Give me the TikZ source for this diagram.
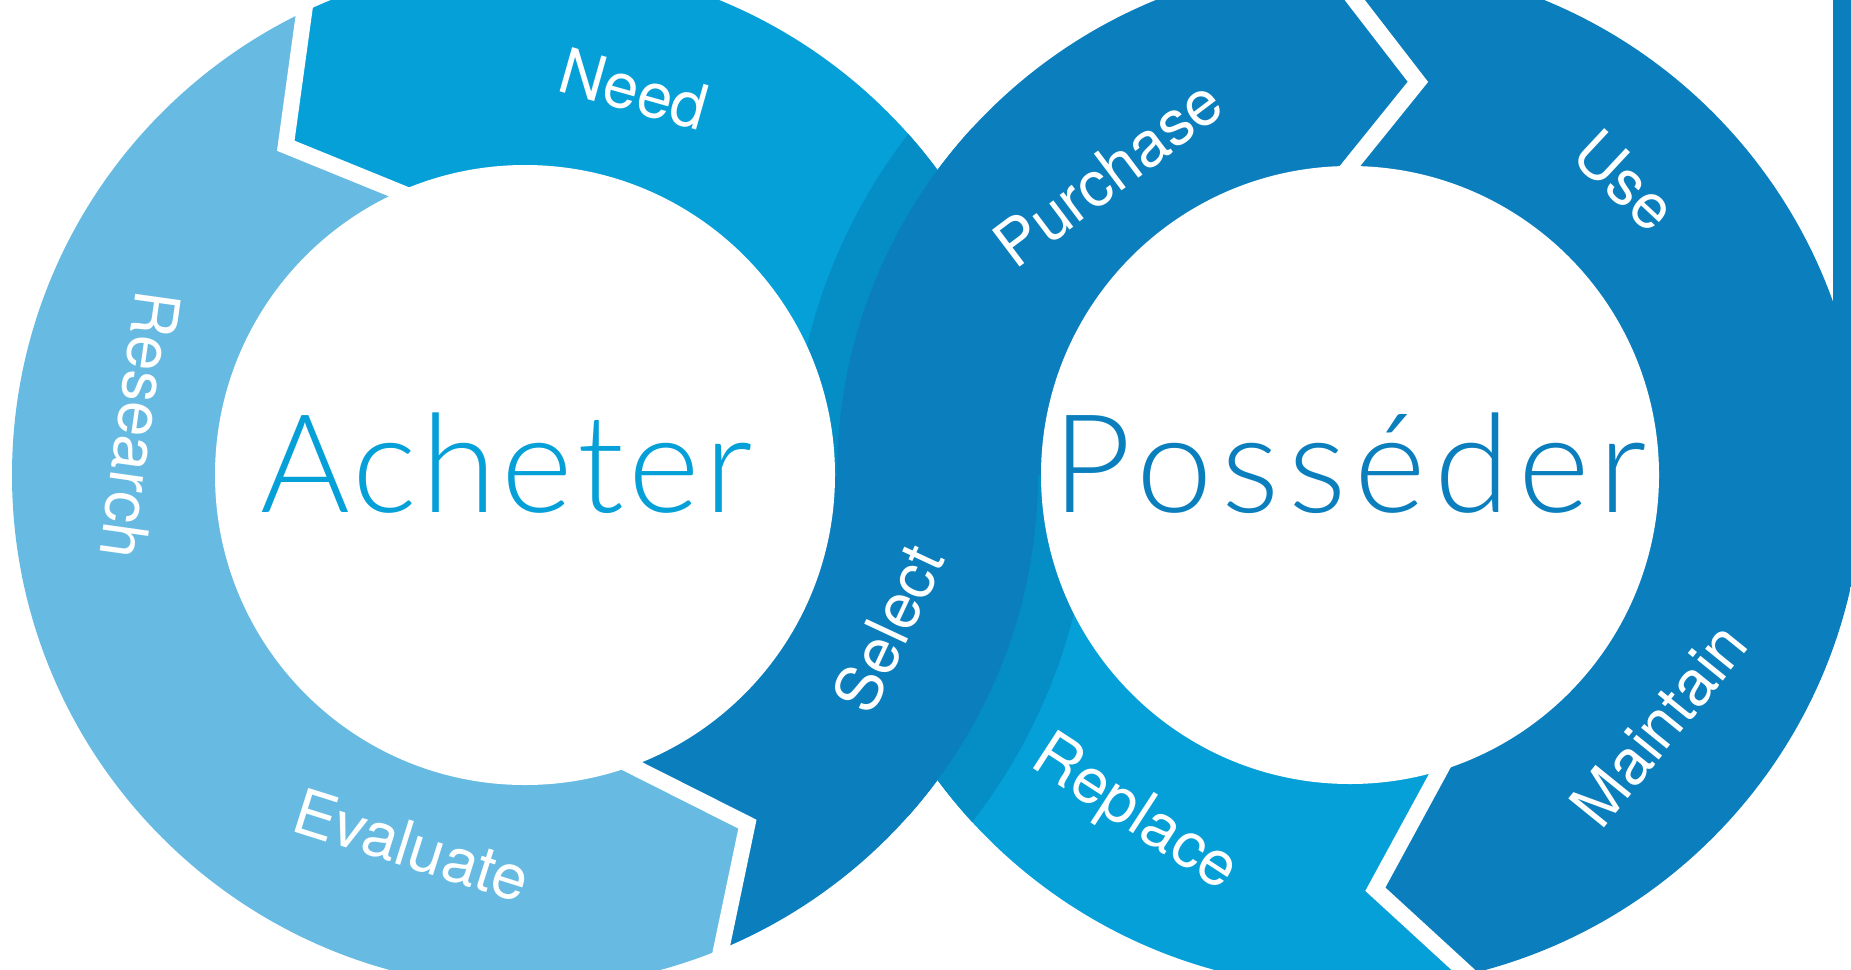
\documentclass[tikz,border=0pt]{standalone}
\usepackage{fontspec}
\setmainfont{TeX Gyre Heros}
\newfontfamily\achfont{Lato Light}[LetterSpace=3.2]
\newfontfamily\posfont{Lato Light}[LetterSpace=6.2]
\definecolor{lightseg}{HTML}{67BBE3}
\definecolor{midseg}{HTML}{06A0D9}
\definecolor{darkseg}{HTML}{0B7FBD}
\definecolor{shadeseg}{HTML}{058EC6}

\begin{document}
\begin{tikzpicture}[x=1pt,y=1pt,
  lbl/.style={text=white,font=\fontsize{63}{70}\selectfont,inner sep=0pt},
  title/.style={inner sep=0pt,anchor=base},
  gap/.style={draw=white,line width=16pt,line join=miter,shorten <=-25pt,shorten >=-25pt}]
\useasboundingbox (0,0) rectangle (1851,-969);
\coordinate (CL) at (525,-475);
\coordinate (CR) at (1350,-475);

\fill[darkseg] (1833,0) rectangle (1851,-475);

\begin{scope}[shift={(CL)}]
\clip (0,0) circle (513);
\fill[lightseg] (0,0) -- (114:310) -- (126:407) -- (115.5:513) -- (115.5:600)
  arc[start angle=115.5,end angle=292.5,radius=600] -- (-67.5:513) -- (-57.5:414) -- (-70:309) -- cycle;
\fill[midseg] (0,0) -- (0:600) arc[start angle=0,end angle=115.5,radius=600]
  -- (115.5:513) -- (126:407) -- (114:310) -- cycle;
\end{scope}

\begin{scope}[shift={(CR)}]
\clip (0,0) circle (513);
\fill[midseg] (0,0) -- (180:600) arc[start angle=180,end angle=283.3,radius=600]
  -- (283.3:513) -- (273.5:415) -- (286.9:309) -- cycle;
\end{scope}

\begin{scope}
\clip (CL) circle (513);
\fill[shadeseg] (CR) circle (558);
\end{scope}
\begin{scope}
\clip (CR) circle (513);
\fill[shadeseg] (CL) circle (566);
\end{scope}

\begin{scope}[shift={(CL)}]
\clip (0,0) circle (513);
\fill[darkseg] (0,0) -- (-70:309) -- (-57.5:414) -- (-67.5:513) -- (-67.5:600)
  arc[start angle=-67.5,end angle=0,radius=600] -- cycle;
\end{scope}

\begin{scope}[shift={(CR)}]
\clip (0,0) circle (513);
\fill[darkseg] (0,0) -- (286.9:309) -- (273.5:415) -- (283.3:513) -- (283.3:600)
  arc[start angle=-76.7,end angle=180,radius=600] -- cycle;
\end{scope}

\fill[white] (CL) circle (310);
\fill[white] (CR) circle (309);

\begin{scope}[shift={(CL)}]
\draw[gap] (114:310) -- (126:407) -- (115.5:513);
\draw[gap] (-70:309) -- (-57.5:414) -- (-67.5:513);
\node[lbl,rotate=-15.8] (need) at (74.2:401) {Need};
\node[lbl,rotate=-98] (research) at (172.6:388) {Research};
\node[lbl,rotate=-17.5] (evaluate) at (253:387) {Evaluate};
\node[lbl,rotate=65] (select) at (-22.9:394) {Select};
\end{scope}

\begin{scope}[shift={(CR)}]
\draw[gap] (90:309) -- (80.2:399) -- (92.7:513);
\draw[gap] (286.9:309) -- (273.5:415) -- (283.3:513);
\node[lbl,rotate=37] (purchase) at (128.7:387) {Purchase};
\node[lbl,rotate=-43] (use) at (46.9:403) {Use};
\node[lbl,rotate=51] (maintain) at (-39:397) {Maintain};
\node[lbl,rotate=-33] (replace) at (237.6:403) {Replace};
\end{scope}

\node[title,text=midseg,font=\achfont\fontsize{137}{160}\selectfont] (acheter) at (506.5,-512) {Acheter};
\node[title,text=darkseg,font=\posfont\fontsize{137}{160}\selectfont] (posseder) at (1350,-512) {Posséder};
\end{tikzpicture}
\end{document}
